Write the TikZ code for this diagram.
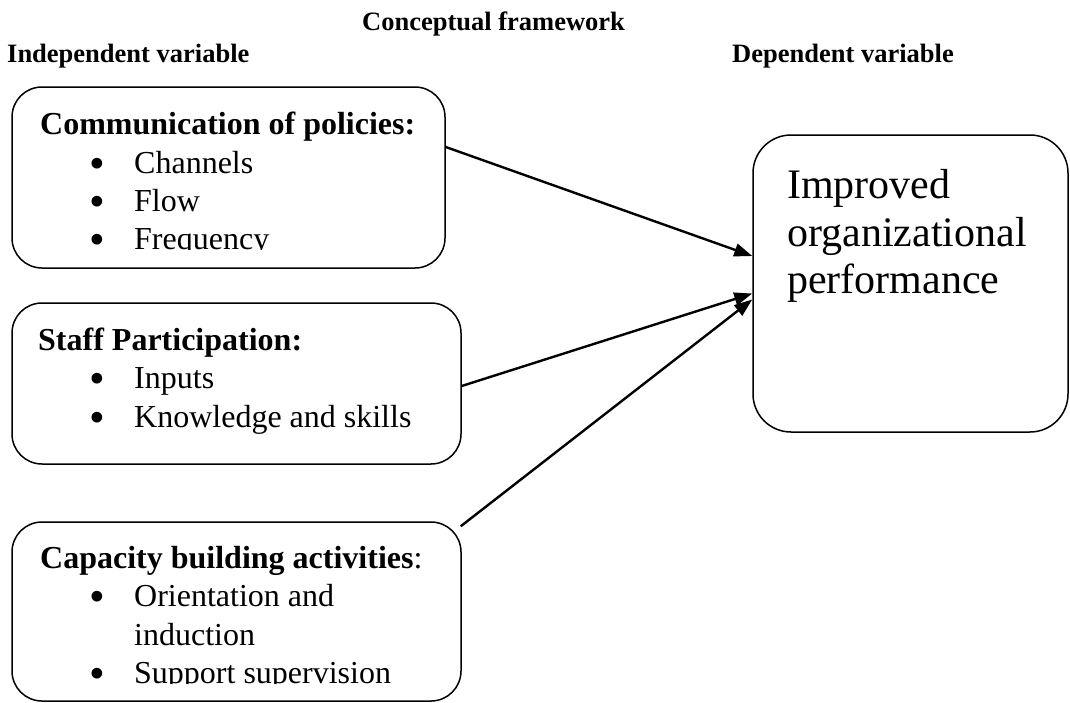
\documentclass[tikz,border=0pt]{standalone}
\usepackage{fontspec}
\setmainfont{Liberation Serif}
\usetikzlibrary{arrows.meta}
\tikzstyle{sbox}=[draw=black,line width=1.5pt,rounded corners=30pt,inner sep=0pt]
\tikzstyle{dbox}=[draw=black,line width=1.5pt,rounded corners=38pt,inner sep=0pt]
\tikzstyle{hd}=[anchor=base west,inner sep=0pt,font=\fontsize{26.5}{30}\selectfont\bfseries]
\tikzstyle{ttl}=[anchor=base west,inner sep=0pt,font=\fontsize{32}{37}\selectfont\bfseries]
\tikzstyle{itm}=[anchor=base west,inner sep=0pt,font=\fontsize{32}{37}\selectfont]
\tikzstyle{bigtxt}=[anchor=base west,inner sep=0pt,font=\fontsize{42}{47}\selectfont]
\tikzstyle{arr}=[line width=2.4pt,-{Triangle[length=18pt,width=13pt]}]
\newcommand{\bul}{\makebox[45pt][l]{\smash{\raisebox{-5pt}{\scalebox{1.4}{\textbullet}}}}}

\begin{document}
\begin{tikzpicture}[x=1pt,y=-1pt]
			\useasboundingbox (0,0) rectangle (1070,702);
			\node (cf) [hd] at (362,30) {Conceptual framework};
			\node (iv) [hd] at (7,62) {Independent variable};
			\node (dvar) [hd] at (732,62) {Dependent variable};
			\node (b1) [sbox,minimum width=433pt,minimum height=181pt] at (228.5,177.5) {};
			\node (b2) [sbox,minimum width=449pt,minimum height=161pt] at (236.5,383.5) {};
			\node (b3) [sbox,minimum width=449pt,minimum height=179pt] at (236.5,611.5) {};
			\node (dv) [dbox,minimum width=315pt,minimum height=297pt] at (910.5,283.5) {};
			\node (t1) [ttl] at (40,134) {Communication of policies:};
			\node (c1) [itm] at (89,173) {\bul Channels};
			\node (c2) [itm] at (89,211) {\bul Flow};
			\begin{scope}
				\clip (12,215) rectangle (445,249.5);
				\node (c3) [itm] at (89,249.5) {\bul Frequency};
			\end{scope}
			\node (t2) [ttl] at (38,350) {Staff Participation:};
			\node (s1) [itm] at (89,388.5) {\bul Inputs};
			\node (s2) [itm] at (89,427) {\bul Knowledge and skills};
			\node (t3) [ttl] at (40,568) {Capacity building activities\mdseries:};
			\node (a1) [itm] at (89,606.5) {\bul Orientation and};
			\node (a2) [itm] at (134,645) {induction};
			\begin{scope}
				\clip (12,650) rectangle (461,683.5);
				\node (a3) [itm] at (89,683.5) {\bul Support supervision};
			\end{scope}
			\node (p1) [bigtxt] at (787,198) {Improved};
			\node (p2) [bigtxt] at (787,246) {organizational};
			\node (p3) [bigtxt] at (787,293) {performance};
			\draw [arr] ([yshift=30.5pt]b1.east) -- ([yshift=27.5pt]dv.west);
			\draw [arr] ([yshift=-2.5pt]b2.east) -- ([yshift=-10pt]dv.west);
			\draw [arr] ([xshift=-1pt,yshift=-5pt]b3.north east) -- ([yshift=-16pt]dv.west);
\end{tikzpicture}
\end{document}
